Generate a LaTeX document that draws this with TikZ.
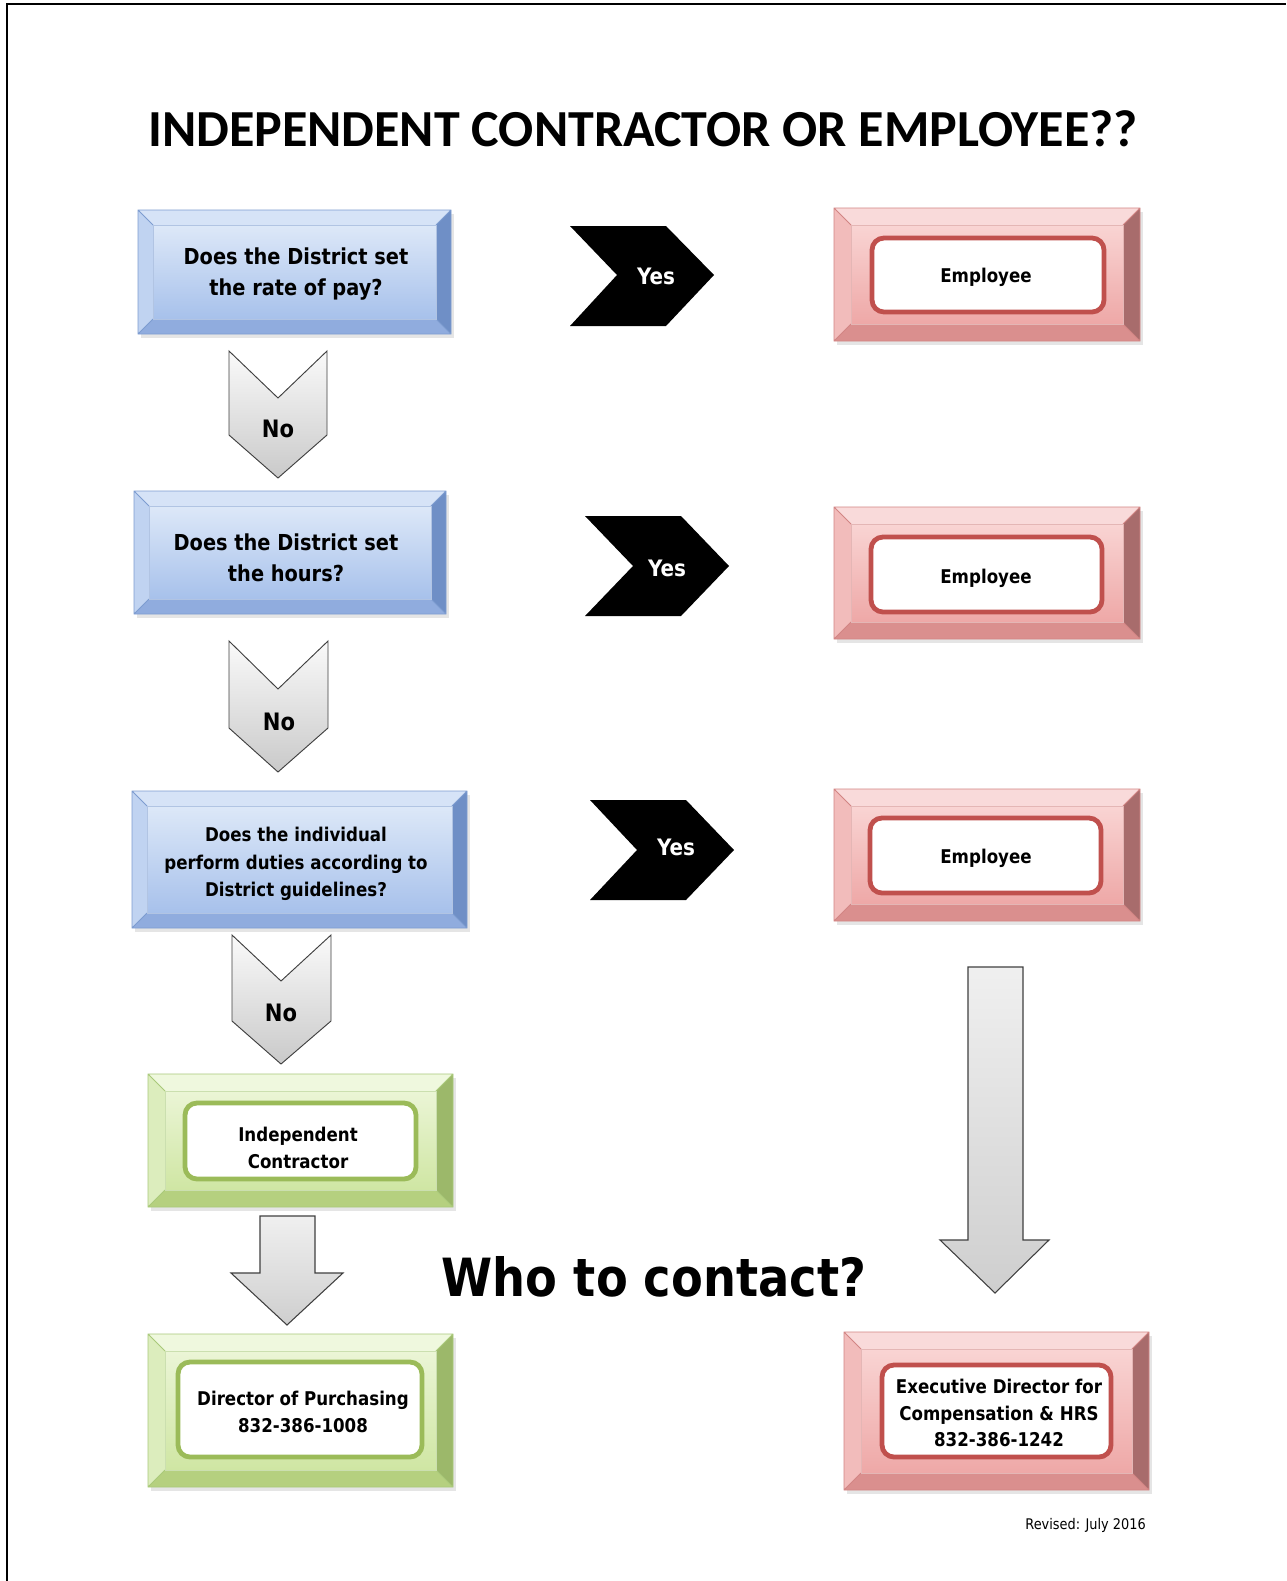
\documentclass[tikz,border=0pt]{standalone}
\usepackage{fontspec}
\setmainfont{DejaVu Sans}
\newfontfamily\bxf[FakeStretch=0.88]{DejaVu Sans}
\newfontfamily\ttlf{Carlito}
% blue
\definecolor{bF1}{HTML}{DDE8F8}\definecolor{bF2}{HTML}{A7C1EB}
\definecolor{btop}{HTML}{D6E3F7}\definecolor{bleft}{HTML}{C0D3F1}
\definecolor{bright}{HTML}{6F8FC6}\definecolor{bbot}{HTML}{90ACDE}
\definecolor{bline}{HTML}{7D9CD0}
% red
\definecolor{rF1}{HTML}{F9D4D3}\definecolor{rF2}{HTML}{EEA8A7}
\definecolor{rtop}{HTML}{F9DADA}\definecolor{rleft}{HTML}{F2BCBB}
\definecolor{rright}{HTML}{A86C6C}\definecolor{rbot}{HTML}{DA8F8E}
\definecolor{rline}{HTML}{D28584}\definecolor{rin}{HTML}{C0504D}
% green
\definecolor{gF1}{HTML}{EBF5D6}\definecolor{gF2}{HTML}{CFE6A3}
\definecolor{gtop}{HTML}{EFF8DE}\definecolor{gleft}{HTML}{DCEDBD}
\definecolor{gright}{HTML}{9CB86A}\definecolor{gbot}{HTML}{B5D07F}
\definecolor{gline}{HTML}{A9C97A}\definecolor{gin}{HTML}{9BBB59}
\newcommand\bevbox[6]{%
  \fill[black!10] (#2+3,#3+4) rectangle (#4+3,#5+4);
  \shade[top color=#1F1,bottom color=#1F2] (#2+#6,#3+#6) rectangle (#4-#6,#5-#6);
  \fill[#1top] (#2,#3) -- (#4,#3) -- (#4-#6,#3+#6) -- (#2+#6,#3+#6) -- cycle;
  \fill[#1left] (#2,#3) -- (#2+#6,#3+#6) -- (#2+#6,#5-#6) -- (#2,#5) -- cycle;
  \fill[#1right] (#4,#3) -- (#4,#5) -- (#4-#6,#5-#6) -- (#4-#6,#3+#6) -- cycle;
  \fill[#1bot] (#2,#5) -- (#4,#5) -- (#4-#6,#5-#6) -- (#2+#6,#5-#6) -- cycle;
  \draw[#1line,line width=0.6pt] (#2,#3) rectangle (#4,#5)
     (#2,#3) -- (#2+#6,#3+#6) (#4,#3) -- (#4-#6,#3+#6)
     (#2,#5) -- (#2+#6,#5-#6) (#4,#5) -- (#4-#6,#5-#6);
  \draw[#1line!60,line width=0.4pt] (#2+#6,#3+#6) rectangle (#4-#6,#5-#6);
}
\newcommand\innerbox[5]{%
  \draw[#1,line width=3.6pt,fill=white,rounded corners=9pt] (#2,#3) rectangle (#4,#5);}
\begin{document}
\begin{tikzpicture}[x=0.75pt,y=-0.75pt,
  qtext/.style={align=center,inner sep=0pt,font=\bxf\bfseries\fontsize{16.5}{23}\selectfont},
  qsmall/.style={align=center,inner sep=0pt,font=\bxf\bfseries\fontsize{14.2}{20.4}\selectfont},
  restext/.style={align=center,inner sep=0pt,font=\bxf\bfseries\fontsize{14.2}{20}\selectfont},
  yestext/.style={text=white,inner sep=0pt,font=\bxf\bfseries\fontsize{17}{20}\selectfont},
  notext/.style={inner sep=0pt,font=\bxf\bfseries\fontsize{18}{22}\selectfont},
  yeschev/.style={fill=black},
  nochev/.style={top color=gray!4,bottom color=gray!42,draw=black!75,line width=0.7pt},
  bigarrow/.style={top color=gray!12,bottom color=gray!38,draw=black!75,line width=0.8pt}]
\useasboundingbox (0,0) rectangle (1286,1581);
\fill[white] (0,0) rectangle (1286,1581);
% page frame
\draw[black,line width=2.2pt] (7,1581) -- (7,4) -- (1286,4);

% title
\node[anchor=base,inner sep=0pt,font=\ttlf\bfseries\fontsize{39}{44}\selectfont] (title) at (643,146)
  {INDEPENDENT CONTRACTOR OR EMPLOYEE??};

% question boxes
\bevbox{b}{138}{210}{451}{334}{15}
\node[qtext] (q1) at (296,274) {Does the District set\\the rate of pay?};
\bevbox{b}{134}{491}{446}{614}{15}
\node[qtext] (q2) at (286,558) {Does the District set\\the hours?};
\bevbox{b}{132}{791}{467}{928}{15}
\node[qsmall] (q3) at (296,864) {Does the individual\\perform duties according to\\District guidelines?};

% employee boxes
\bevbox{r}{834}{208}{1140}{341}{17}
\innerbox{rin}{872}{238}{1104}{312}
\node[restext] (e1) at (986,277) {Employee};
\bevbox{r}{834}{507}{1140}{639}{17}
\innerbox{rin}{871}{537}{1102}{612}
\node[restext] (e2) at (986,578) {Employee};
\bevbox{r}{834}{789}{1140}{921}{17}
\innerbox{rin}{870}{818}{1101}{893}
\node[restext] (e3) at (986,858) {Employee};

% yes chevrons
\fill[yeschev] (570,226) -- (666,226) -- (714,275) -- (666,326) -- (570,326) -- (617,275) -- cycle;
\node[yestext] (y1) at (656,276) {Yes};
\fill[yeschev] (585,516) -- (681,516) -- (729,566) -- (681,616) -- (585,616) -- (633,566) -- cycle;
\node[yestext] (y2) at (667,568) {Yes};
\fill[yeschev] (590,800) -- (686,800) -- (734,850) -- (686,900) -- (590,900) -- (637,850) -- cycle;
\node[yestext] (y3) at (676,847) {Yes};

% no chevrons
\path[nochev] (229,351) -- (278,398) -- (327,351) -- (327,435) -- (278,478) -- (229,435) -- cycle;
\node[notext] (n1) at (278,429) {No};
\path[nochev] (229,641) -- (278,689) -- (328,641) -- (328,728) -- (278,772) -- (229,728) -- cycle;
\node[notext] (n2) at (279,722) {No};
\path[nochev] (232,935) -- (281,981) -- (331,935) -- (331,1021) -- (281,1064) -- (232,1021) -- cycle;
\node[notext] (n3) at (281,1013) {No};

% independent contractor
\bevbox{g}{148}{1074}{453}{1207}{17}
\innerbox{gin}{185}{1103}{416}{1179}
\node[restext] (ic) at (298,1148) {Independent\\Contractor};

% contact arrows
\path[bigarrow] (260,1216) -- (315,1216) -- (315,1273) -- (343,1273) -- (287,1325) -- (231,1273) -- (260,1273) -- cycle;
\path[bigarrow] (968,967) -- (1023,967) -- (1023,1240) -- (1049,1240) -- (995,1293) -- (940,1240) -- (968,1240) -- cycle;

\node[anchor=base,inner sep=0pt,font=\bxf\bfseries\fontsize{39.5}{44}\selectfont] (who) at (654,1296) {Who to contact?};

% contact boxes
\bevbox{g}{148}{1334}{453}{1487}{17}
\innerbox{gin}{178}{1362}{422}{1457}
\node[restext] (dp) at (303,1412) {Director of Purchasing\\832-386-1008};
\bevbox{r}{844}{1332}{1149}{1490}{17}
\innerbox{rin}{882}{1365}{1111}{1457}
\node[restext] (ed) at (999,1413) {Executive Director for\\Compensation \& HRS\\832-386-1242};

\node[anchor=base east,inner sep=0pt,font=\bxf\fontsize{11}{13}\selectfont] (rev) at (1146,1529) {Revised: July 2016};
\end{tikzpicture}
\end{document}
